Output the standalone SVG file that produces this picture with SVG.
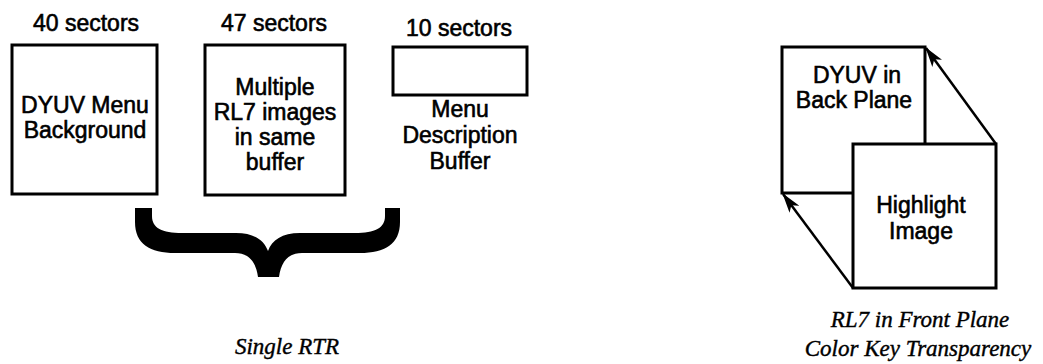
<svg xmlns="http://www.w3.org/2000/svg" width="1043" height="364" viewBox="0 0 1043 364">
<style>
.box{fill:#fff;stroke:#000;stroke-width:3}
.t{font-family:"Liberation Sans",Arial,sans-serif;font-size:23px;fill:#000;stroke:#000;stroke-width:0.6;text-anchor:middle}
.c{font-family:"Liberation Serif","Times New Roman",serif;font-style:italic;font-size:23px;fill:#000;stroke:#000;stroke-width:0.4;text-anchor:middle}
.ar{fill:none;stroke:#000;stroke-width:2.5}
</style>
<defs>
<marker id="ah" viewBox="0 0 20 12" refX="19" refY="6" markerWidth="20" markerHeight="12" markerUnits="userSpaceOnUse" orient="auto">
<path d="M0,0 L20,6 L0,12 L5,6 Z" fill="#000"/>
</marker>
</defs>
<rect width="1043" height="364" fill="#fff"/>
<g id="sector-labels">
<text class="t" x="86" y="31">40 sectors</text>
<text class="t" x="274" y="31">47 sectors</text>
<text class="t" x="459" y="36">10 sectors</text>
</g>
<g id="dyuv-menu-background">
<rect class="box" x="12" y="45" width="145" height="149"/>
<text class="t" x="85" y="113">DYUV Menu</text>
<text class="t" x="85" y="138">Background</text>
</g>
<g id="rl7-images">
<rect class="box" x="205" y="45" width="140" height="150"/>
<text class="t" x="275" y="95">Multiple</text>
<text class="t" x="275" y="120">RL7 images</text>
<text class="t" x="275" y="145">in same</text>
<text class="t" x="275" y="170">buffer</text>
</g>
<g id="menu-description-buffer">
<rect class="box" x="393" y="47" width="134" height="48"/>
<text class="t" x="460" y="117">Menu</text>
<text class="t" x="460" y="143">Description</text>
<text class="t" x="460" y="169">Buffer</text>
</g>
<g id="single-rtr">
<path d="M135,208 L152,208 L152,216 C152,228 162,233 182,233 L236,233 C254,233 264,240 268,251 C272,240 282,233 300,233 L355,233 C375,233 385,228 385,216 L385,208 L400,208 L400,222 C400,244 385,253 360,253 L302,253 C288,253 281,262 279,277 L258,277 C256,262 249,253 235,253 L175,253 C150,253 135,244 135,222 Z" fill="#000"/>
<text class="c" x="287" y="354">Single RTR</text>
</g>
<g id="dyuv-back-plane">
<rect class="box" x="782" y="47" width="143" height="146"/>
<text class="t" x="857" y="83">DYUV in</text>
<text class="t" x="854" y="108">Back Plane</text>
</g>
<g id="highlight-image">
<rect class="box" x="853" y="144" width="143" height="144"/>
<text class="t" x="921" y="213">Highlight</text>
<text class="t" x="921" y="239">Image</text>
</g>
<g id="connectors">
<line class="ar" x1="996" y1="144" x2="926" y2="48" marker-end="url(#ah)"/>
<line class="ar" x1="853" y1="288" x2="783" y2="194" marker-end="url(#ah)"/>
</g>
<g id="caption">
<text class="c" x="920" y="327">RL7 in Front Plane</text>
<text class="c" x="918" y="356">Color Key Transparency</text>
</g>
</svg>
